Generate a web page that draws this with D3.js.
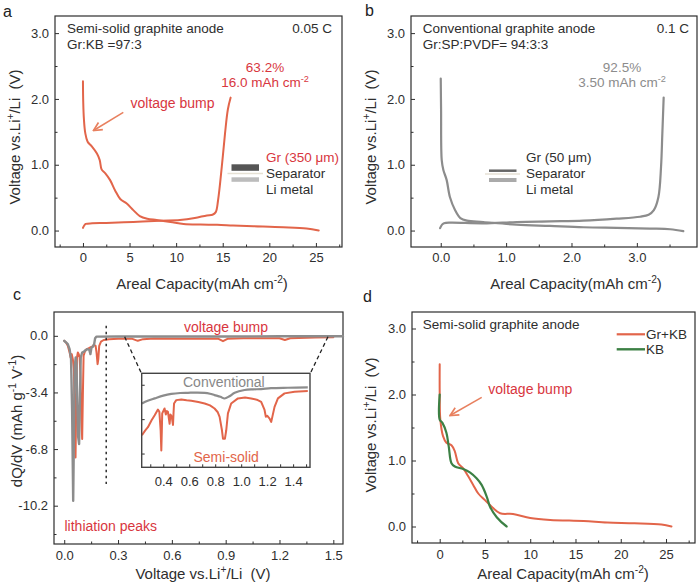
<!DOCTYPE html>
<html><head><meta charset="utf-8">
<script src="https://cdn.jsdelivr.net/npm/d3@7"></script>
<style>
body{margin:0;background:#fff;}
svg text{font-family:"Liberation Sans",Arial,Helvetica,sans-serif;}
</style></head><body>
<svg id="c" width="700" height="585"></svg>
<script>
// ---------------- DATA ----------------
// Panel a: semi-solid graphite anode (capacity mAh cm-2, voltage V)
const aDischarge = [[0,2.27],[0.03,1.95],[0.1,1.7],[0.25,1.48],[0.5,1.35],[0.95,1.28],[1.5,1.17],[1.8,1.07],[2.0,0.93],[2.4,0.87],[2.9,0.77],[3.45,0.61],[4.0,0.48],[4.7,0.41],[5.4,0.31],[6.1,0.22],[6.9,0.18],[7.9,0.16],[9.4,0.13],[10.8,0.10],[12.6,0.09],[14.4,0.087],[16.1,0.077],[18.3,0.066],[21.5,0.05],[24,0.03],[25.3,0.0]];
const aCharge = [[0,0.04],[0.1,0.07],[0.3,0.1],[1.0,0.11],[2.5,0.115],[5.4,0.13],[8.3,0.15],[10.4,0.16],[12,0.19],[13.3,0.23],[13.9,0.24],[14.25,0.28],[14.5,0.46],[14.9,0.97],[15.25,1.48],[15.55,1.84],[15.85,2.02]];
// Panel b: conventional graphite anode
const bDischarge = [[0,2.31],[0.005,1.84],[0.015,1.07],[0.04,0.92],[0.09,0.77],[0.14,0.51],[0.22,0.31],[0.30,0.19],[0.40,0.15],[0.65,0.13],[1.16,0.09],[1.67,0.07],[2.18,0.05],[2.69,0.04],[3.2,0.03],[3.51,0.02],[3.71,-0.01]];
const bCharge = [[-0.01,0.036],[0.02,0.09],[0.05,0.11],[0.14,0.12],[0.65,0.11],[1.16,0.13],[1.67,0.14],[2.18,0.15],[2.69,0.18],[3.05,0.21],[3.18,0.24],[3.26,0.31],[3.33,0.51],[3.37,0.97],[3.39,1.48],[3.41,2.02]];
// Panel c: dQ/dV (V, mAh g-1 V-1)
const cConventional = [[0,-0.3],[0.01,-0.4],[0.02,-0.5],[0.03,-0.8],[0.038,-1.4],[0.044,-4.5],[0.050,-9.9],[0.055,-5],[0.059,-1.8],[0.064,-1.3],[0.068,-1.6],[0.072,-3.5],[0.077,-6],[0.083,-6.5],[0.088,-3.5],[0.092,-1.3],[0.1,-1.0],[0.11,-0.95],[0.12,-0.85],[0.13,-0.8],[0.14,-0.85],[0.146,-1.1],[0.152,-0.7],[0.16,-0.65],[0.167,-0.5],[0.172,-0.15],[0.18,-0.05],[0.3,-0.04],[0.6,-0.04],[0.9,-0.04],[1.2,-0.03],[1.554,-0.03]];
const cSemiSolid = [[0,-0.3],[0.01,-0.4],[0.02,-0.6],[0.03,-1.0],[0.036,-1.3],[0.042,-1.1],[0.048,-1.4],[0.054,-2.0],[0.058,-4.5],[0.063,-7.3],[0.067,-4.0],[0.071,-1.3],[0.076,-1.0],[0.081,-1.1],[0.086,-1.3],[0.091,-2.5],[0.096,-5.0],[0.100,-6.2],[0.104,-3.5],[0.108,-1.2],[0.115,-0.95],[0.125,-0.8],[0.135,-0.75],[0.145,-0.7],[0.155,-0.65],[0.165,-0.55],[0.175,-0.6],[0.18,-1.0],[0.186,-1.7],[0.19,-1.4],[0.195,-0.6],[0.205,-0.35],[0.22,-0.25],[0.25,-0.2],[0.3,-0.18],[0.38,-0.18],[0.41,-0.3],[0.44,-0.2],[0.5,-0.16],[0.7,-0.17],[0.86,-0.18],[0.885,-0.32],[0.91,-0.18],[1.0,-0.15],[1.2,-0.15],[1.23,-0.25],[1.26,-0.15],[1.4,-0.1],[1.5,-0.08]];
// Panel c inset (zoom 0.23-1.53 V)
const insetConventional = [[0.236,-0.263],[0.28,-0.24],[0.334,-0.219],[0.4,-0.195],[0.462,-0.18],[0.53,-0.172],[0.59,-0.17],[0.66,-0.168],[0.719,-0.17],[0.76,-0.178],[0.795,-0.19],[0.84,-0.205],[0.872,-0.22],[0.91,-0.2],[0.95,-0.17],[1.026,-0.146],[1.09,-0.14],[1.154,-0.138],[1.23,-0.13],[1.36,-0.126],[1.513,-0.123]];
const insetSemiSolid = [[0.236,-0.54],[0.26,-0.5],[0.282,-0.47],[0.31,-0.41],[0.334,-0.366],[0.359,-0.316],[0.37,-0.336],[0.38,-0.5],[0.385,-0.673],[0.389,-0.5],[0.392,-0.35],[0.41,-0.307],[0.42,-0.36],[0.428,-0.33],[0.436,-0.336],[0.449,-0.44],[0.455,-0.36],[0.462,-0.37],[0.468,-0.4],[0.475,-0.45],[0.479,-0.35],[0.483,-0.263],[0.5,-0.234],[0.539,-0.228],[0.58,-0.236],[0.616,-0.24],[0.67,-0.25],[0.719,-0.263],[0.76,-0.28],[0.795,-0.307],[0.82,-0.34],[0.834,-0.38],[0.852,-0.497],[0.86,-0.57],[0.875,-0.57],[0.885,-0.497],[0.898,-0.35],[0.923,-0.263],[0.975,-0.219],[1.03,-0.212],[1.077,-0.219],[1.12,-0.23],[1.154,-0.249],[1.18,-0.32],[1.19,-0.38],[1.2,-0.37],[1.219,-0.395],[1.231,-0.424],[1.24,-0.38],[1.257,-0.293],[1.283,-0.219],[1.334,-0.175],[1.411,-0.16],[1.513,-0.155]];
// Panel d: Gr+KB vs KB
const dGrKB = [[0,2.46],[0,2.03],[0.07,1.62],[0.37,1.37],[0.74,1.27],[1.3,1.23],[1.67,1.14],[2.04,0.96],[2.6,0.88],[3.15,0.76],[3.7,0.63],[4.26,0.5],[5,0.40],[5.74,0.30],[6.67,0.20],[8.1,0.19],[10,0.13],[12.2,0.10],[15.9,0.082],[18.5,0.06],[21.5,0.05],[24.5,0.03],[25.6,0]];
const dKB = [[0,2.0],[0,1.62],[0.3,1.57],[0.74,1.42],[1.0,1.21],[1.3,0.96],[1.67,0.91],[2.6,0.87],[3.33,0.82],[4.07,0.73],[4.63,0.63],[5.2,0.45],[5.56,0.30],[6.3,0.14],[7.4,0.0]];

// Ticks
const capTicks = [0,5,10,15,20,25];
const capLabels = ["0","5","10","15","20","25"];
const capMinor = [-2.5,2.5,7.5,12.5,17.5,22.5,27.5];
const vTicks = [0,1,2,3];
const vLabels = ["0.0","1.0","2.0","3.0"];
const vMinor = [0.5,1.5,2.5];
const bTicks = [0,1,2,3];
const bLabels = ["0.0","1.0","2.0","3.0"];
const bMinor = [0.5,1.5,2.5,3.5];
const cxTicks = [0,0.3,0.6,0.9,1.2,1.5];
const cxLabels = ["0.0","0.3","0.6","0.9","1.2","1.5"];
const cxMinor = [0.15,0.45,0.75,1.05,1.35];
const cyTicks = [0,-3.4,-6.8,-10.2];
const cyLabels = ["0.0","-3.4","-6.8","-10.2"];
const cyMinor = [-1.7,-5.1,-8.5,-11.9];
const insetXTicks = [0.3,0.4,0.5,0.6,0.7,0.8,0.9,1.0,1.1,1.2,1.3,1.4,1.5];
const insetXLabeled = [0.4,0.6,0.8,1.0,1.2,1.4];
const insetXLabels = ["0.4","0.6","0.8","1.0","1.2","1.4"];
const insetYTicks = [-0.1,-0.4,-0.7];

// ---------------- DRAW ----------------
const svg = d3.select("#c");
const FF = '"Liberation Sans", Arial, Helvetica, sans-serif';
const ORANGE = "#e2654a", RED = "#d8363e", GRAY = "#8c8c8c", GREEN = "#3c8044", DARK = "#2e2e2e";

function styleAxis(a, fs) {
  a.attr("font-family", FF).attr("font-size", fs);
  a.select(".domain").remove();
  a.selectAll("text").attr("fill", DARK);
  a.selectAll("line").attr("stroke", DARK).attr("stroke-width", 1);
}

function panel(o) {
  const x = d3.scaleLinear().domain(o.xd).range([o.x0, o.x1]);
  const y = d3.scaleLinear().domain(o.yd).range([o.y1, o.y0]);
  const g = svg.append("g");
  const pad = o.pad || 6;
  const ax = g.append("g").attr("transform", `translate(0,${o.y1})`)
    .call(d3.axisBottom(x).tickValues(o.xt).tickFormat(d => o.xl[o.xt.indexOf(d)]).tickSizeInner(-4).tickSizeOuter(0).tickPadding(pad));
  styleAxis(ax, 13);
  if (o.xm) {
    const am = g.append("g").attr("transform", `translate(0,${o.y1})`)
      .call(d3.axisBottom(x).tickValues(o.xm).tickFormat("").tickSizeInner(-2.5).tickSizeOuter(0));
    styleAxis(am, 13);
  }
  const ay = g.append("g").attr("transform", `translate(${o.x0},0)`)
    .call(d3.axisLeft(y).tickValues(o.yt).tickFormat(d => o.yl[o.yt.indexOf(d)]).tickSizeInner(-4).tickSizeOuter(0).tickPadding(6));
  styleAxis(ay, 13);
  if (o.ym) {
    const aym = g.append("g").attr("transform", `translate(${o.x0},0)`)
      .call(d3.axisLeft(y).tickValues(o.ym).tickFormat("").tickSizeInner(-2.5).tickSizeOuter(0));
    styleAxis(aym, 13);
  }
  g.append("rect").attr("x", o.x0).attr("y", o.y0).attr("width", o.x1 - o.x0).attr("height", o.y1 - o.y0)
    .attr("fill", "none").attr("stroke", DARK).attr("stroke-width", 1.2);
  return {g, x, y};
}

function rich(x, y, parts, o = {}) {
  const size = o.size || 13.5;
  const t = svg.append("text").attr("x", x).attr("y", y).attr("font-size", size)
    .attr("fill", o.fill || DARK).attr("text-anchor", o.anchor || "start").style("white-space", "pre");
  if (o.rotate) t.attr("transform", `rotate(-90,${x},${y})`);
  let up = false;
  parts.forEach(p => {
    const sup = typeof p !== "string";
    const s = t.append("tspan").text(sup ? p.sup : p);
    if (sup) { s.attr("font-size", size * 0.68).attr("dy", -size * 0.4); up = true; }
    else if (up) { s.attr("dy", size * 0.4); up = false; }
  });
  return t;
}

function drawLine(p, data, color, w, curve) {
  const line = d3.line().x(d => p.x(d[0])).y(d => p.y(d[1])).curve(curve || d3.curveCatmullRom.alpha(0.5));
  p.g.append("path").datum(data).attr("d", line).attr("fill", "none").attr("stroke", color)
    .attr("stroke-width", w).attr("stroke-linejoin", "round").attr("stroke-linecap", "round");
}

// arrow marker
const defs = svg.append("defs");
defs.append("marker").attr("id", "arr").attr("viewBox", "0 0 10 10").attr("refX", 9).attr("refY", 5)
  .attr("markerWidth", 7).attr("markerHeight", 7).attr("orient", "auto")
  .append("path").attr("d", "M1,1 L9,5 L1,9").attr("fill", "none").attr("stroke", "#e8805f").attr("stroke-width", 1.6);

function arrow(x1, y1, x2, y2) {
  svg.append("line").attr("x1", x1).attr("y1", y1).attr("x2", x2).attr("y2", y2)
    .attr("stroke", "#e8805f").attr("stroke-width", 1.5).attr("marker-end", "url(#arr)");
}

const voltTitle = ["Voltage vs.Li", {sup: "+"}, "/Li  (V)"];
const capTitle = ["Areal Capacity(mAh cm", {sup: "-2"}, ")"];

// ---- Panel a ----
const pa = panel({x0: 55, x1: 342, y0: 16, y1: 247, xd: [-3, 27.8], yd: [-0.25, 3.26],
  xt: capTicks, xl: capLabels, xm: capMinor, yt: vTicks, yl: vLabels, ym: vMinor, pad: 6});
drawLine(pa, aCharge, ORANGE, 2);
drawLine(pa, aDischarge, ORANGE, 2);
rich(3, 17, ["a"], {size: 16, fill: "#222"});
rich(67, 33, ["Semi-solid graphite anode"]);
rich(67, 49, ["Gr:KB =97:3"]);
rich(332, 33, ["0.05 C"], {anchor: "end"});
rich(265, 71.5, ["63.2%"], {anchor: "middle", fill: RED});
rich(265, 87, ["16.0 mAh cm", {sup: "-2"}], {anchor: "middle", fill: RED});
rich(130.5, 107.5, ["voltage bump"], {fill: RED, size: 14});
arrow(123.3, 112.3, 93.5, 130.5);
svg.append("rect").attr("x", 231.5).attr("y", 164.3).attr("width", 27.5).attr("height", 6.5).attr("fill", "#555");
svg.append("line").attr("x1", 227.5).attr("x2", 263).attr("y1", 173.5).attr("y2", 173.5).attr("stroke", "#e6e1d4").attr("stroke-width", 1.5);
svg.append("rect").attr("x", 231.5).attr("y", 177.3).attr("width", 27.5).attr("height", 4.5).attr("fill", "#bcbcbc");
rich(266, 161.5, ["Gr (350 μm)"], {fill: RED});
rich(266, 177.5, ["Separator"]);
rich(266, 193.5, ["Li metal"]);
rich(20, 137, voltTitle, {anchor: "middle", rotate: true, size: 15});
rich(202, 289, capTitle, {anchor: "middle", size: 15});

// ---- Panel b ----
const pb = panel({x0: 411, x1: 697, y0: 16, y1: 247, xd: [-0.455, 3.92], yd: [-0.25, 3.26],
  xt: bTicks, xl: bLabels, xm: bMinor, yt: vTicks, yl: vLabels, ym: vMinor, pad: 6});
drawLine(pb, bCharge, GRAY, 2.2);
drawLine(pb, bDischarge, GRAY, 2.2);
rich(365, 16, ["b"], {size: 16, fill: "#222"});
rich(422.7, 33, ["Conventional graphite anode"]);
rich(422.7, 49, ["Gr:SP:PVDF= 94:3:3"]);
rich(689, 33, ["0.1 C"], {anchor: "end"});
rich(622, 71.5, ["92.5%"], {anchor: "middle", fill: GRAY});
rich(622, 87, ["3.50 mAh cm", {sup: "-2"}], {anchor: "middle", fill: GRAY});
svg.append("line").attr("x1", 489).attr("x2", 516.5).attr("y1", 170.7).attr("y2", 170.7).attr("stroke", "#666").attr("stroke-width", 2.5);
svg.append("line").attr("x1", 485).attr("x2", 520).attr("y1", 174).attr("y2", 174).attr("stroke", "#e6e1d4").attr("stroke-width", 1.5);
svg.append("line").attr("x1", 489).attr("x2", 516.5).attr("y1", 180).attr("y2", 180).attr("stroke", "#aaa").attr("stroke-width", 4);
rich(526, 161.5, ["Gr (50 μm)"]);
rich(526, 177.5, ["Separator"]);
rich(526, 193.5, ["Li metal"]);
rich(376, 137, voltTitle, {anchor: "middle", rotate: true, size: 15});
rich(576, 289, capTitle, {anchor: "middle", size: 15});

// ---- Panel c ----
const pc = panel({x0: 54, x1: 343, y0: 312, y1: 544, xd: [-0.057, 1.554], yd: [-12.5, 1.43],
  xt: cxTicks, xl: cxLabels, xm: cxMinor, yt: cyTicks, yl: cyLabels, ym: cyMinor, pad: 6.5});
drawLine(pc, cSemiSolid, ORANGE, 2, d3.curveLinear);
drawLine(pc, cConventional, GRAY, 2.4, d3.curveLinear);
// dotted divider
pc.g.append("line").attr("x1", pc.x(0.234)).attr("x2", pc.x(0.234)).attr("y1", pc.y(0.6)).attr("y2", pc.y(-8.9))
  .attr("stroke", "#222").attr("stroke-width", 1.4).attr("stroke-dasharray", "2.5,3.5");
rich(13, 300, ["c"], {size: 16, fill: "#222"});
rich(184, 331.5, ["voltage bump"], {fill: RED, size: 14});
rich(64.5, 530.5, ["lithiation peaks"], {fill: RED, size: 14});
rich(21.5, 421, ["dQ/dV (mAh g", {sup: "-1"}, " V", {sup: "-1"}, ")"], {anchor: "middle", rotate: true, size: 15});
rich(203, 579, voltTitle, {anchor: "middle", size: 15});

// inset
const ix = d3.scaleLinear().domain([0.234, 1.53]).range([141.7, 310]);
const iy = d3.scaleLinear().domain([-0.82, 0]).range([467.3, 373.3]);
const ig = svg.append("g");
ig.append("rect").attr("x", 141.7).attr("y", 373.3).attr("width", 310 - 141.7).attr("height", 467.3 - 373.3).attr("fill", "#fff");
// connector dashed lines
[[0.337, 141.7], [1.47, 310]].forEach(([v, px]) => {
  svg.append("line").attr("x1", pc.x(v)).attr("y1", pc.y(-0.06)).attr("x2", px).attr("y2", 374)
    .attr("stroke", "#222").attr("stroke-width", 1.3).attr("stroke-dasharray", "4,3");
});
const ibx = ig.append("g").attr("transform", "translate(0,467.3)")
  .call(d3.axisBottom(ix).tickValues(insetXTicks).tickFormat(d => { const k = insetXLabeled.findIndex(v => Math.abs(v - d) < 1e-9); return k >= 0 ? insetXLabels[k] : ""; }).tickSizeInner(-3).tickSizeOuter(0).tickPadding(9));
styleAxis(ibx, 13);
const ily = ig.append("g").attr("transform", "translate(141.7,0)")
  .call(d3.axisLeft(iy).tickValues(insetYTicks).tickFormat("").tickSizeInner(-3).tickSizeOuter(0));
styleAxis(ily, 13);
const iline = d3.line().x(d => ix(d[0])).y(d => iy(d[1]));
ig.append("path").datum(insetSemiSolid).attr("d", iline).attr("fill", "none").attr("stroke", ORANGE).attr("stroke-width", 2).attr("stroke-linejoin", "round");
ig.append("path").datum(insetConventional).attr("d", iline.curve(d3.curveCatmullRom)).attr("fill", "none").attr("stroke", GRAY).attr("stroke-width", 2.2);
ig.append("rect").attr("x", 141.7).attr("y", 373.3).attr("width", 310 - 141.7).attr("height", 467.3 - 373.3).attr("fill", "none").attr("stroke", "#444").attr("stroke-width", 1.4);
rich(183, 386.5, ["Conventional"], {fill: "#888", size: 14});
rich(193.5, 461.5, ["Semi-solid"], {fill: ORANGE, size: 14});

// ---- Panel d ----
const pd = panel({x0: 412, x1: 695, y0: 312, y1: 543, xd: [-3.06, 28.2], yd: [-0.25, 3.25],
  xt: capTicks, xl: capLabels, xm: capMinor, yt: vTicks, yl: vLabels, ym: vMinor, pad: 6.5});
drawLine(pd, dGrKB, ORANGE, 2);
drawLine(pd, dKB, GREEN, 2.2);
rich(363, 302, ["d"], {size: 16, fill: "#222"});
rich(422.7, 328.5, ["Semi-solid graphite anode"]);
svg.append("line").attr("x1", 616.7).attr("x2", 645).attr("y1", 334.3).attr("y2", 334.3).attr("stroke", ORANGE).attr("stroke-width", 2.2);
svg.append("line").attr("x1", 616.7).attr("x2", 645).attr("y1", 349.3).attr("y2", 349.3).attr("stroke", GREEN).attr("stroke-width", 2.4);
rich(646, 339, ["Gr+KB"]);
rich(646, 354, ["KB"]);
rich(488.3, 393.5, ["voltage bump"], {fill: RED, size: 14});
arrow(481.7, 397.3, 450, 415.5);
rich(376, 425, voltTitle, {anchor: "middle", rotate: true, size: 15});
rich(563, 579, capTitle, {anchor: "middle", size: 15});
</script>
</body></html>
